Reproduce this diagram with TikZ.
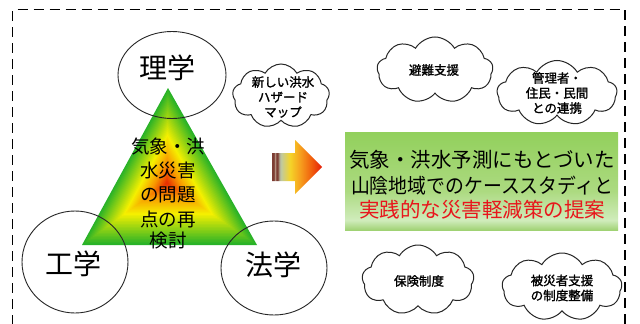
\documentclass[tikz,border=0pt]{standalone}
\usepackage{fontspec}
\usepackage{graphicx}
\setmainfont{Noto Sans CJK JP}
\newfontfamily\jpb{Noto Sans CJK JP}[FakeBold=1.5]
\usetikzlibrary{shapes.symbols,shapes.geometric,calc}
\definecolor{tgrn}{RGB}{40,178,40}
\definecolor{tyel}{RGB}{245,240,0}
\definecolor{torg}{RGB}{248,150,0}
\definecolor{tred}{RGB}{232,50,0}
\definecolor{abr}{RGB}{125,62,52}
\definecolor{alt}{RGB}{205,185,165}
\definecolor{agr}{RGB}{172,165,145}
\definecolor{apg}{RGB}{192,202,160}
\definecolor{ayl}{RGB}{245,212,40}
\definecolor{aor}{RGB}{246,160,30}
\definecolor{aro}{RGB}{240,92,12}
\definecolor{ard}{RGB}{230,30,10}
\definecolor{gtop}{RGB}{146,208,92}
\definecolor{gmid}{RGB}{172,218,128}
\definecolor{glt}{RGB}{208,236,188}
\definecolor{gbot}{RGB}{160,210,116}
\definecolor{redtxt}{RGB}{232,22,28}
\pgfdeclarehorizontalshading{arrowsh}{100bp}{color(0bp)=(abr); color(25bp)=(abr); color(27bp)=(abr); color(28bp)=(alt); color(29bp)=(abr); color(31bp)=(abr); color(32bp)=(agr); color(34bp)=(apg); color(43bp)=(ayl); color(53bp)=(aor); color(65bp)=(aro); color(75bp)=(ard); color(100bp)=(ard)}
\pgfdeclareverticalshading{boxsh}{100bp}{color(0bp)=(gbot); color(25bp)=(gbot); color(30bp)=(glt); color(45bp)=(gmid); color(75bp)=(gtop); color(100bp)=(gtop)}
\tikzset{
  disc/.style={draw=black!85, line width=0.9pt, ellipse, inner sep=0pt},
  disctext/.style={font=\fontsize{28}{28}\selectfont, inner sep=0pt},
  puff/.style={cloud, cloud puffs=9, cloud puff arc=120, draw=black!85, line width=1pt, inner sep=0pt, aspect=1.7},
  cltext/.style={font=\jpb\fontsize{12.5}{15}\selectfont, align=center, inner sep=0pt},
  boxtext/.style={font=\fontsize{20.5}{22}\selectfont, inner sep=0pt},
  tritext/.style={font=\fontsize{18.5}{24}\selectfont, inner sep=0pt}
}
\begin{document}
\begin{tikzpicture}[x=1pt,y=-1pt]
\useasboundingbox (0,0) rectangle (640,324);
\fill[white] (0,0) rectangle (640,324);
% dashed frame
\draw[line width=1.7pt, dash pattern=on 10pt off 6pt] (12.5,324.5) -- (12.5,9.5) -- (625,9.5) -- (625,324.5);
% triangle with path gradient
\coordinate (A) at (168,88);
\coordinate (B) at (82,245);
\coordinate (C) at (257,245);
\coordinate (cen) at (167,183);
\foreach \i in {0,...,40}{
  \pgfmathsetmacro\s{1-\i/41}
  \pgfmathsetmacro\t{\i/40}
  \ifdim\t pt<0.5pt
    \pgfmathsetmacro\p{\t/0.5*100}
    \colorlet{tc}{tyel!\p!tgrn}
  \else\ifdim\t pt<0.78pt
    \pgfmathsetmacro\p{(\t-0.5)/0.28*100}
    \colorlet{tc}{torg!\p!tyel}
  \else
    \pgfmathsetmacro\p{(\t-0.78)/0.22*100}
    \colorlet{tc}{tred!\p!torg}
  \fi\fi
  \fill[tc] ($(cen)!\s!(A)$) -- ($(cen)!\s!(B)$) -- ($(cen)!\s!(C)$) -- cycle;
}
% discipline circles
\node[disc, minimum width=108pt, minimum height=87pt] (ri) at (172,75) {};
\node[disc, minimum width=106pt, minimum height=102pt] (ko) at (75,262) {};
\node[disc, minimum width=106pt, minimum height=94pt] (ho) at (274,268) {};
\node[disctext] (rit) at (167,68) {理学};
\node[disctext] (kot) at (73,264) {工学};
\node[disctext] (hot) at (273,265) {法学};
% triangle text
\node[tritext] (t1) at (168,147) {気象・洪};
\node[tritext] (t2) at (168,171) {水災害};
\node[tritext] (t3) at (168,195) {の問題};
\node[tritext] (t4) at (168,219) {点の再};
\node[tritext] (t5) at (168,241) {検討};
% block arrow
\path[shading=arrowsh] (272,153) -- (295,153) -- (295,140) -- (322,167) -- (295,194) -- (295,181) -- (272,181) -- cycle;
% green box
\path[shading=boxsh] (345,132) rectangle (618,230);
\node[boxtext] (b1) at (482,160) {気象・洪水予測にもとづいた};
\node[boxtext] (b2) at (482,186) {\scalebox{0.92}[1]{山陰地域でのケーススタディと}};
\node[boxtext, text=redtxt] (b3) at (482,210) {実践的な災害軽減策の提案};
% clouds
\node[puff, minimum width=97pt, minimum height=64pt] (c1) at (281,96) {};
\node[cltext] at (283,97) {新しい洪水\\ハザード\\マップ};
\node[puff, minimum width=116pt, minimum height=66pt] (c2) at (435,70) {};
\node[cltext] at (434,70) {避難支援};
\node[puff, minimum width=120pt, minimum height=65pt] (c3) at (557,93) {};
\node[cltext] at (557,93) {管理者・\\住民・民間\\との連携};
\node[puff, minimum width=112pt, minimum height=70pt] (c4) at (418,280) {};
\node[cltext] at (419,281) {保険制度};
\node[puff, minimum width=120pt, minimum height=68pt] (c5) at (562,287) {};
\node[cltext] at (562,288) {被災者支援\\の制度整備};
\end{tikzpicture}
\end{document}
